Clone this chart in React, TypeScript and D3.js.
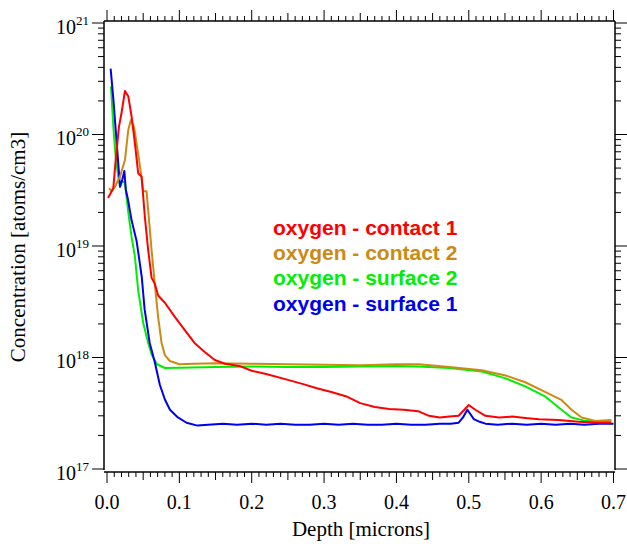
import React from 'react'
import * as d3 from 'd3'

// depth [microns] / concentration [atoms/cm3]
const c1Depth = [0.0014, 0.004, 0.0087, 0.012, 0.0165, 0.0203, 0.0248, 0.0294, 0.034, 0.0386, 0.0431, 0.0478, 0.0524, 0.0569, 0.0616, 0.066, 0.0707, 0.08, 0.094, 0.1075, 0.121, 0.135, 0.149, 0.163, 0.183, 0.2, 0.22, 0.25, 0.27, 0.29, 0.31, 0.33, 0.35, 0.37, 0.39, 0.41, 0.43, 0.445, 0.46, 0.473, 0.486, 0.5, 0.509, 0.523, 0.542, 0.56, 0.578, 0.597, 0.624, 0.652, 0.679, 0.697]
const c1Conc = [2.7e19, 2.9e19, 3.3e19, 5.9e19, 1.17e20, 1.59e20, 2.46e20, 2.2e20, 1.45e20, 8.3e19, 4.5e19, 4.2e19, 1.8e19, 9.2e18, 5.2e18, 4.6e18, 3.6e18, 3.1e18, 2.3e18, 1.76e18, 1.35e18, 1.12e18, 9.5e17, 8.8e17, 8.4e17, 7.6e17, 7.1e17, 6.3e17, 5.8e17, 5.3e17, 4.9e17, 4.5e17, 3.9e17, 3.6e17, 3.45e17, 3.4e17, 3.3e17, 3.0e17, 2.9e17, 2.95e17, 3.0e17, 3.75e17, 3.4e17, 3.0e17, 2.9e17, 2.95e17, 2.87e17, 2.8e17, 2.75e17, 2.65e17, 2.6e17, 2.6e17]

const c2Depth = [0.0028, 0.0065, 0.011, 0.018, 0.0248, 0.0294, 0.033, 0.0376, 0.0423, 0.0469, 0.05, 0.0547, 0.0569, 0.0616, 0.066, 0.0707, 0.0754, 0.08, 0.0868, 0.1, 0.12, 0.15, 0.2, 0.25, 0.3, 0.35, 0.4, 0.431, 0.473, 0.518, 0.551, 0.578, 0.606, 0.628, 0.642, 0.656, 0.675, 0.697]
const c2Conc = [3.3e19, 3.1e19, 3.4e19, 4.2e19, 5.9e19, 1.1e20, 1.35e20, 1.15e20, 7.2e19, 4.5e19, 3.1e19, 3.1e19, 2.1e19, 9.2e18, 4.6e18, 2.3e18, 1.35e18, 1.05e18, 9.3e17, 8.7e17, 8.8e17, 8.9e17, 8.8e17, 8.7e17, 8.6e17, 8.5e17, 8.7e17, 8.7e17, 8.2e17, 7.7e17, 6.9e17, 6.0e17, 4.9e17, 4.16e17, 3.4e17, 2.9e17, 2.7e17, 2.75e17]

const s2Depth = [0.0055, 0.0087, 0.012, 0.0156, 0.018, 0.0207, 0.0248, 0.0294, 0.034, 0.0386, 0.0431, 0.05, 0.0569, 0.062, 0.069, 0.08, 0.1, 0.15, 0.2, 0.25, 0.3, 0.35, 0.4, 0.43, 0.473, 0.518, 0.551, 0.578, 0.606, 0.628, 0.642, 0.661, 0.697]
const s2Conc = [2.7e20, 1.18e20, 6.3e19, 4.2e19, 3.4e19, 3.8e19, 3.7e19, 2.0e19, 1.2e19, 8e18, 4.0e18, 2.05e18, 1.35e18, 1.05e18, 8.7e17, 8.05e17, 8.1e17, 8.2e17, 8.3e17, 8.2e17, 8.2e17, 8.3e17, 8.4e17, 8.3e17, 8.05e17, 7.5e17, 6.5e17, 5.5e17, 4.45e17, 3.4e17, 2.9e17, 2.7e17, 2.7e17]

const s1Depth = [0.005, 0.009, 0.013, 0.018, 0.021, 0.024, 0.026, 0.029, 0.034, 0.041, 0.048, 0.052, 0.059, 0.066, 0.073, 0.08, 0.087, 0.098, 0.11, 0.125, 0.14, 0.16, 0.18, 0.2, 0.22, 0.24, 0.26, 0.28, 0.3, 0.32, 0.34, 0.36, 0.38, 0.4, 0.42, 0.44, 0.46, 0.475, 0.486, 0.492, 0.498, 0.507, 0.515, 0.523, 0.54, 0.56, 0.58, 0.6, 0.62, 0.64, 0.66, 0.68, 0.7]
const s1Conc = [3.9e20, 2.0e20, 9.1e19, 3.4e19, 3.9e19, 4.7e19, 3.2e19, 2.6e19, 1.7e19, 1.1e19, 5.3e18, 2.7e18, 1.35e18, 9.1e17, 5.7e17, 4.2e17, 3.4e17, 2.9e17, 2.6e17, 2.45e17, 2.5e17, 2.55e17, 2.5e17, 2.55e17, 2.5e17, 2.55e17, 2.5e17, 2.5e17, 2.55e17, 2.5e17, 2.55e17, 2.5e17, 2.5e17, 2.55e17, 2.5e17, 2.5e17, 2.55e17, 2.55e17, 2.6e17, 2.9e17, 3.4e17, 2.8e17, 2.65e17, 2.55e17, 2.5e17, 2.55e17, 2.5e17, 2.55e17, 2.5e17, 2.55e17, 2.5e17, 2.55e17, 2.55e17]

const seriesNames = ['oxygen - contact 1', 'oxygen - contact 2', 'oxygen - surface 2', 'oxygen - surface 1']
const seriesColors = ['#ff0000', '#cc8a14', '#00ee00', '#0000ee']
const yDecades = [17, 18, 19, 20, 21]
const xTickLabels = ['0.0', '0.1', '0.2', '0.3', '0.4', '0.5', '0.6', '0.7']

const W = 627
const H = 544
const FRAME = { left: 104, right: 615, top: 21, bottom: 470, xAxisY: 472 }

export default function App() {
  const x = d3.scaleLinear().domain([0, 0.7]).range([107, 613.5])
  const y = d3.scaleLog().domain([1e17, 1e21]).range([469, 23])

  const line = d3.line<[number, number]>()
    .x(d => x(d[0]))
    .y(d => y(d[1]))

  const series = [
    { depth: c1Depth, conc: c1Conc },
    { depth: c2Depth, conc: c2Conc },
    { depth: s2Depth, conc: s2Conc },
    { depth: s1Depth, conc: s1Conc }
  ].map((s, i) => ({
    name: seriesNames[i],
    color: seriesColors[i],
    points: s.depth.map((d, j) => [d, s.conc[j]] as [number, number])
  }))

  // draw order: green, blue, gold, red
  const drawOrder = [2, 3, 1, 0]

  const xMinor = d3.range(0, 71).map(i => i / 100)
  const yMinor: number[] = []
  yDecades.slice(0, -1).forEach(e => {
    for (let m = 2; m <= 9; m++) yMinor.push(m * Math.pow(10, e))
  })

  const serif = 'Liberation Serif, Times New Roman, Times, serif'
  const sans = 'Liberation Sans, Arial, sans-serif'

  return (
    <svg width={W} height={H} style={{ position: 'absolute', left: 0, top: 0, background: '#fff' }}>
      <rect x={0} y={0} width={W} height={H} fill="#fff" />

      {/* data */}
      {drawOrder.map(i => (
        <path
          key={series[i].name}
          d={line(series[i].points) || ''}
          fill="none"
          stroke={series[i].color}
          strokeWidth={2}
          strokeLinejoin="round"
        />
      ))}

      {/* frame */}
      <g stroke="#000" strokeWidth={1.5} fill="none">
        <line x1={FRAME.left} x2={FRAME.left} y1={FRAME.top} y2={FRAME.bottom} />
        <line x1={FRAME.right} x2={FRAME.right} y1={FRAME.top} y2={FRAME.bottom} />
        <line x1={FRAME.left} x2={FRAME.right} y1={FRAME.top} y2={FRAME.top} />
        <line x1={FRAME.left} x2={FRAME.right} y1={FRAME.xAxisY} y2={FRAME.xAxisY} />
      </g>

      {/* x ticks, bottom and top */}
      <g stroke="#000" strokeWidth={1}>
        {xMinor.map((t, i) => {
          const len = i % 10 === 0 ? 11 : i % 5 === 0 ? 8 : 5
          const px = x(t)
          return (
            <g key={`xt-${i}`}>
              <line x1={px} x2={px} y1={FRAME.xAxisY} y2={FRAME.xAxisY + len} />
              <line x1={px} x2={px} y1={FRAME.top} y2={FRAME.top - len} />
            </g>
          )
        })}
      </g>
      {xTickLabels.map((lab, i) => (
        <text key={lab} x={x(i / 10)} y={508.5} style={{ fontFamily: serif }} fontSize={20} textAnchor="middle" fill="#000">
          {lab}
        </text>
      ))}

      {/* y ticks, left and right */}
      <g stroke="#000" strokeWidth={1}>
        {yDecades.map(e => {
          const py = y(Math.pow(10, e))
          return (
            <g key={`yM-${e}`}>
              <line x1={FRAME.left} x2={FRAME.left - 12} y1={py} y2={py} />
              <line x1={FRAME.right} x2={FRAME.right + 12} y1={py} y2={py} />
            </g>
          )
        })}
        {yMinor.map((v, i) => {
          const py = y(v)
          return (
            <g key={`ym-${i}`}>
              <line x1={FRAME.left} x2={FRAME.left - 6} y1={py} y2={py} />
              <line x1={FRAME.right} x2={FRAME.right + 6} y1={py} y2={py} />
            </g>
          )
        })}
      </g>
      {yDecades.map(e => (
        <text key={`yl-${e}`} x={89} y={y(Math.pow(10, e)) + 10.5} style={{ fontFamily: serif }} fontSize={20} textAnchor="end" fill="#000">
          10
          <tspan fontSize={13} dy={-9}>{e}</tspan>
        </text>
      ))}

      {/* axis titles */}
      <text x={361} y={536} style={{ fontFamily: serif }} fontSize={21} textAnchor="middle" fill="#000">
        Depth [microns]
      </text>
      <text transform="translate(24.5, 247) rotate(-90)" style={{ fontFamily: serif }} fontSize={21} textAnchor="middle" fill="#000">
        Concentration [atoms/cm3]
      </text>

      {/* legend */}
      {series.map((s, i) => (
        <text
          key={`lg-${i}`}
          x={273}
          y={234.5 + i * 25.4}
          style={{ fontFamily: sans }}
          fontWeight="bold"
          fontSize={21}
          fill={s.color}
        >
          {s.name}
        </text>
      ))}
    </svg>
  )
}
